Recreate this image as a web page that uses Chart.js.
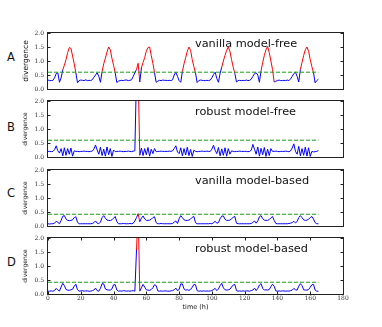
<!DOCTYPE html>
<html>
<head>
<meta charset="utf-8">
<script src="https://cdn.jsdelivr.net/npm/chart.js@4.4.0/dist/chart.umd.min.js"></script>
<style>
    body { margin: 0; background: #fff; width: 382px; height: 327px; position: relative; overflow: hidden; font-family: "DejaVu Sans", sans-serif; color: #111; }
    canvas { position: absolute; left: 0; }
    .letter { position: absolute; left: 7px; font-size: 11.5px; line-height: 12px; }
    .name { position: absolute; left: 195px; font-size: 11.3px; line-height: 11px; white-space: nowrap; }
</style>
</head>
<body>
<div class="letter" style="top:51px">A</div>
<div class="letter" style="top:121px">B</div>
<div class="letter" style="top:187px">C</div>
<div class="letter" style="top:256px">D</div>

<canvas id="chart-a" width="382" height="68" style="top:27px"></canvas>
<canvas id="chart-b" width="382" height="68" style="top:95px"></canvas>
<canvas id="chart-c" width="382" height="68" style="top:164px"></canvas>
<canvas id="chart-d" width="382" height="84" style="top:232px"></canvas>

<div class="name" style="top:38px">vanilla model-free</div>
<div class="name" style="top:106px">robust model-free</div>
<div class="name" style="top:175px">vanilla model-based</div>
<div class="name" style="top:243px">robust model-based</div>

<script>
// hourly divergence, one row per day (last row stops at 165 h)
const vanillaFree = [
    0.32,0.30,0.30,0.31,0.40,0.55,0.58,0.24,0.40,0.68,0.85,1.05,1.30,1.48,1.45,1.18,0.90,0.58,0.22,0.30,0.32,0.31,0.30,0.33,
    0.30,0.31,0.30,0.33,0.42,0.50,0.58,0.45,0.24,0.62,0.90,1.10,1.32,1.50,1.40,1.10,0.85,0.58,0.23,0.28,0.30,0.31,0.30,0.32,
    0.32,0.30,0.31,0.33,0.45,0.58,0.70,0.92,0.25,0.75,0.95,1.12,1.35,1.48,1.50,1.20,0.92,0.58,0.24,0.28,0.31,0.30,0.32,0.31,
    0.31,0.30,0.31,0.30,0.33,0.50,0.60,0.45,0.30,0.24,0.62,0.90,1.12,1.35,1.50,1.38,1.05,0.80,0.57,0.23,0.30,0.32,0.31,0.30,
    0.30,0.31,0.30,0.32,0.40,0.52,0.60,0.38,0.24,0.55,0.78,1.00,1.20,1.38,1.50,1.35,1.05,0.78,0.56,0.25,0.30,0.31,0.30,0.31,
    0.30,0.32,0.30,0.31,0.35,0.45,0.55,0.58,0.50,0.24,0.65,0.95,1.20,1.40,1.52,1.30,1.00,0.70,0.25,0.28,0.30,0.32,0.30,0.30,
    0.31,0.30,0.32,0.30,0.36,0.45,0.55,0.60,0.45,0.25,0.70,0.95,1.20,1.40,1.50,1.35,1.05,0.80,0.58,0.22,0.30,0.35
];
const robustFree = [
    0.20,0.20,0.19,0.20,0.26,0.40,0.22,0.14,0.30,0.04,0.33,0.06,0.30,0.10,0.32,0.03,0.22,0.20,0.20,0.19,0.20,0.20,0.21,0.20,
    0.20,0.19,0.20,0.21,0.28,0.43,0.25,0.10,0.35,0.05,0.28,0.03,0.36,0.08,0.30,0.02,0.25,0.19,0.20,0.20,0.21,0.20,0.19,0.20,
    0.20,0.21,0.20,0.19,0.21,0.22,3.00,3.00,0.06,0.32,0.05,0.30,0.08,0.34,0.03,0.28,0.12,0.30,0.19,0.20,0.20,0.21,0.20,0.20,
    0.20,0.20,0.21,0.20,0.22,0.30,0.40,0.18,0.12,0.33,0.04,0.30,0.07,0.35,0.05,0.27,0.02,0.24,0.20,0.19,0.20,0.20,0.21,0.20,
    0.20,0.21,0.20,0.20,0.28,0.42,0.24,0.12,0.34,0.04,0.29,0.06,0.33,0.03,0.30,0.10,0.22,0.20,0.19,0.20,0.20,0.21,0.20,0.20,
    0.20,0.20,0.19,0.20,0.24,0.45,0.28,0.10,0.36,0.03,0.31,0.08,0.34,0.02,0.28,0.05,0.30,0.20,0.20,0.21,0.20,0.19,0.20,0.20,
    0.20,0.21,0.20,0.19,0.22,0.32,0.47,0.20,0.10,0.38,0.04,0.30,0.06,0.35,0.03,0.33,0.02,0.20,0.18,0.19,0.20,0.23
];
const vanillaBased = [
    0.08,0.07,0.08,0.08,0.10,0.17,0.13,0.08,0.20,0.35,0.37,0.25,0.20,0.19,0.20,0.22,0.30,0.33,0.13,0.08,0.08,0.08,0.08,0.08,
    0.08,0.08,0.08,0.09,0.12,0.18,0.10,0.08,0.14,0.30,0.37,0.28,0.21,0.20,0.19,0.22,0.28,0.34,0.16,0.08,0.08,0.08,0.09,0.08,
    0.08,0.08,0.09,0.08,0.10,0.18,0.30,0.44,0.15,0.28,0.36,0.25,0.20,0.20,0.21,0.24,0.30,0.33,0.12,0.08,0.08,0.09,0.08,0.08,
    0.08,0.08,0.08,0.08,0.09,0.14,0.18,0.09,0.26,0.37,0.30,0.22,0.20,0.20,0.21,0.25,0.31,0.34,0.12,0.08,0.08,0.08,0.08,0.08,
    0.08,0.08,0.08,0.09,0.08,0.12,0.17,0.10,0.12,0.26,0.35,0.36,0.24,0.20,0.20,0.21,0.26,0.31,0.34,0.10,0.08,0.08,0.08,0.08,
    0.08,0.08,0.08,0.08,0.09,0.13,0.18,0.10,0.18,0.33,0.37,0.26,0.21,0.20,0.20,0.23,0.29,0.34,0.20,0.09,0.08,0.08,0.08,0.08,
    0.08,0.08,0.08,0.09,0.10,0.12,0.17,0.11,0.16,0.30,0.37,0.30,0.22,0.20,0.21,0.24,0.30,0.34,0.25,0.12,0.08,0.08
];
const robustBased = [
    0.10,0.10,0.11,0.10,0.12,0.20,0.14,0.11,0.25,0.38,0.30,0.16,0.14,0.13,0.15,0.17,0.28,0.35,0.15,0.10,0.11,0.12,0.10,0.11,
    0.11,0.10,0.10,0.12,0.14,0.21,0.12,0.10,0.20,0.37,0.36,0.18,0.15,0.14,0.14,0.18,0.33,0.33,0.14,0.10,0.11,0.10,0.12,0.11,
    0.10,0.11,0.10,0.11,0.12,0.10,1.57,3.00,0.10,0.22,0.34,0.25,0.15,0.14,0.13,0.16,0.22,0.33,0.30,0.11,0.10,0.11,0.10,0.11,
    0.11,0.10,0.10,0.11,0.12,0.15,0.21,0.12,0.16,0.36,0.36,0.18,0.14,0.15,0.13,0.16,0.24,0.34,0.33,0.12,0.10,0.11,0.10,0.11,
    0.10,0.11,0.10,0.11,0.12,0.16,0.20,0.12,0.18,0.30,0.38,0.22,0.15,0.14,0.15,0.17,0.25,0.32,0.34,0.12,0.10,0.11,0.10,0.11,
    0.10,0.11,0.11,0.10,0.12,0.14,0.21,0.12,0.20,0.32,0.37,0.20,0.14,0.15,0.14,0.16,0.26,0.35,0.28,0.11,0.10,0.11,0.10,0.11,
    0.11,0.10,0.11,0.10,0.12,0.14,0.20,0.15,0.14,0.28,0.37,0.30,0.15,0.14,0.14,0.16,0.24,0.33,0.34,0.14,0.10,0.10
];

const thresholdVanillaFree = 0.6;
const thresholdRobustFree = 0.6;
const thresholdVanillaBased = 0.42;
const thresholdRobustBased = 0.42;

const hours = vanillaFree.map((v, i) => i);   // one sample per hour
const yTicks = [0, 0.5, 1.0, 1.5, 2.0];
const xTicks = [0, 20, 40, 60, 80, 100, 120, 140, 160, 180];

const BLUE = '#0000ff';
const RED = '#ff0000';
const GREEN = '#14a014';

// box round the plot plus small inward tick marks, like the original figure
const framePlugin = {
    id: 'frame',
    afterDraw(chart, args, opts) {
        const {ctx, chartArea: a, scales} = chart;
        const l = Math.round(a.left) - 0.5, r = Math.round(a.right) + 0.5;
        const t = Math.round(a.top) - 0.5, b = Math.round(a.bottom) + 0.5;
        ctx.save();
        ctx.strokeStyle = '#222';
        ctx.lineWidth = 1;
        ctx.setLineDash([]);
        ctx.beginPath();
        yTicks.forEach((v) => {
            const y = Math.round(scales.y.getPixelForValue(v)) + 0.5;
            ctx.moveTo(l, y); ctx.lineTo(l + 3, y);
            ctx.moveTo(r, y); ctx.lineTo(r - 3, y);
        });
        if (opts.xTicks) {
            xTicks.forEach((v) => {
                const x = Math.round(scales.x.getPixelForValue(v)) + 0.5;
                ctx.moveTo(x, b); ctx.lineTo(x, b - 3);
                ctx.moveTo(x, t); ctx.lineTo(x, t + 3);
            });
        }
        ctx.stroke();
        ctx.strokeRect(l, t, r - l, b - t);
        ctx.restore();
    }
};

function buildChart(id, values, threshold, showX, yTitleSize) {
    return new Chart(document.getElementById(id), {
        type: 'line',
        data: {
            datasets: [
                {
                    data: [{x: hours[0], y: threshold}, {x: hours[hours.length - 1], y: threshold}],
                    borderColor: GREEN,
                    borderDash: [4, 2],
                    borderWidth: 1,
                    pointRadius: 0
                },
                {
                    data: hours.map((h, i) => ({x: h, y: values[i]})),
                    borderColor: BLUE,
                    borderWidth: 1,
                    pointRadius: 0,
                    tension: 0,
                    segment: {
                        borderColor: (c) => c.p0.parsed.y > threshold ? RED : BLUE
                    }
                }
            ]
        },
        options: {
            responsive: false,
            maintainAspectRatio: false,
            animation: false,
            devicePixelRatio: 1,
            layout: {padding: {left: 18, right: 39, top: 6, bottom: showX ? 2 : 6}},
            plugins: {
                legend: {display: false},
                tooltip: {enabled: false},
                frame: {xTicks: showX}
            },
            scales: {
                x: {
                    type: 'linear',
                    min: 0,
                    max: 180,
                    display: showX,
                    grid: {display: false, drawTicks: false},
                    border: {display: false},
                    afterBuildTicks: (s) => { s.ticks = xTicks.map(v => ({value: v})); },
                    ticks: {font: {family: 'DejaVu Serif', size: 6}, color: '#333', padding: 1, autoSkip: false, maxRotation: 0},
                    title: {display: true, text: 'time (h)', font: {family: 'DejaVu Sans', size: 6.5}, color: '#111', padding: {top: 0, bottom: 3}}
                },
                y: {
                    min: 0,
                    max: 2,
                    grid: {display: false, drawTicks: false},
                    border: {display: false},
                    afterBuildTicks: (s) => { s.ticks = yTicks.map(v => ({value: v})); },
                    afterFit: (s) => { s.width = 30; s.paddingTop = 0; s.paddingBottom = 0; },
                    ticks: {font: {family: 'DejaVu Serif', size: 6}, color: '#333', padding: 4, callback: (v) => v.toFixed(1)},
                    title: {display: true, text: 'divergence', font: {family: 'DejaVu Sans', size: yTitleSize}, color: '#111', padding: {top: 4, bottom: 0}}
                }
            }
        },
        plugins: [framePlugin]
    });
}

buildChart('chart-a', vanillaFree, thresholdVanillaFree, false, 7.5);
buildChart('chart-b', robustFree, thresholdRobustFree, false, 6);
buildChart('chart-c', vanillaBased, thresholdVanillaBased, false, 6);
buildChart('chart-d', robustBased, thresholdRobustBased, true, 6);
</script>
</body>
</html>
